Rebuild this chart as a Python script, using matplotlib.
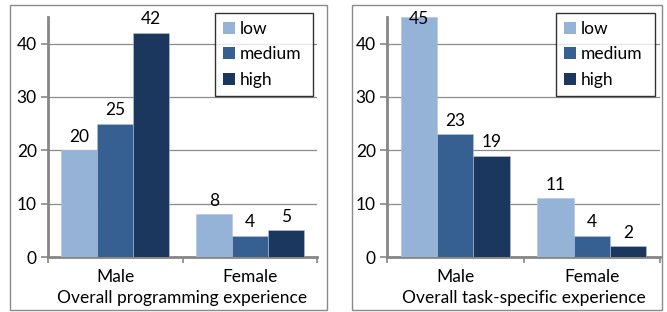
import matplotlib
matplotlib.use("Agg")
import matplotlib.pyplot as plt
from matplotlib.patches import Rectangle, Patch
import numpy as np

plt.rcParams['font.family'] = ['Lato', 'DejaVu Sans']

categories = ["Male", "Female"]
levels = ["low", "medium", "high"]
prog_values = {"low": [20, 8], "medium": [25, 4], "high": [42, 5]}
task_values = {"low": [45, 11], "medium": [23, 4], "high": [19, 2]}
titles = ["Overall programming experience", "Overall task-specific experience"]
colors = {"low": "#95B3D7", "medium": "#376092", "high": "#1B375E"}

W, H = 667, 312
fig = plt.figure(figsize=(W / 100, H / 100), dpi=100)

def px(x0, y0, x1, y1):
    return [x0 / W, 1 - y1 / H, (x1 - x0) / W, (y1 - y0) / H]

panels = [
    dict(border=(10, 5, 327, 310), axes=(48, 17, 317, 257), legend=(215, 13, 313, 90), data=prog_values),
    dict(border=(352, 5, 662, 310), axes=(387, 17, 660, 257), legend=(556, 13, 655, 90), data=task_values),
]

gray = "#868686"
fs = 12.5
for p, title in zip(panels, titles):
    bx0, by0, bx1, by1 = p["border"]
    fig.add_artist(Rectangle((bx0 / W, 1 - by1 / H), (bx1 - bx0) / W, (by1 - by0) / H,
                             transform=fig.transFigure, fill=False, edgecolor="#8a8a8a", lw=1.0))
    ax = fig.add_axes(px(*p["axes"]))
    x = np.arange(len(categories))
    bw = 0.8 / 3
    handles = []
    for i, lev in enumerate(levels):
        vals = p["data"][lev]
        ax.bar(x + (i - 1) * bw, vals, width=bw, color=colors[lev], zorder=3,
               edgecolor="#b0c4de", linewidth=0.4)
        for xi, v in zip(x + (i - 1) * bw, vals):
            ax.text(xi, min(v + 1.6, 43.6), str(v), ha="center", va="baseline",
                    fontsize=fs, zorder=4)
        handles.append(Patch(facecolor=colors[lev], label=lev))
    ax.set_xlim(-0.5, 1.5)
    ax.set_ylim(0, 45)
    ax.set_yticks([0, 10, 20, 30, 40])
    ax.set_xticks([-0.5, 0.5, 1.5])
    ax.set_xticklabels([])
    ax.tick_params(axis="x", length=4, color=gray, width=1.2)
    ax.tick_params(axis="y", length=5, color=gray, width=1.2, labelsize=fs, pad=3)
    for xi, c in zip(x, categories):
        ax.text(xi, -3.8, c, ha="center", va="center", fontsize=fs)
    ax.text(0.5, -7.7, title, ha="center", va="center", fontsize=fs)
    ax.grid(axis="y", color="#8c8c8c", lw=0.9, zorder=0)
    for s in ["top", "right"]:
        ax.spines[s].set_visible(False)
    for s in ["left", "bottom"]:
        ax.spines[s].set_color(gray)
        ax.spines[s].set_linewidth(2)
    lx0, ly0, lx1, ly1 = p["legend"]
    leg = ax.legend(handles=handles, loc="upper left",
                    bbox_to_anchor=(lx0 / W, 1 - ly1 / H, (lx1 - lx0) / W, (ly1 - ly0) / H),
                    bbox_transform=fig.transFigure, mode="expand", fontsize=fs,
                    frameon=True, fancybox=False, edgecolor="black", handlelength=0.7,
                    handleheight=0.7, handletextpad=0.3, labelspacing=0.55, borderaxespad=0,
                    borderpad=0.45)
    leg.get_frame().set_linewidth(1.0)
    leg.set_zorder(5)

fig.savefig("out.png", dpi=100)
